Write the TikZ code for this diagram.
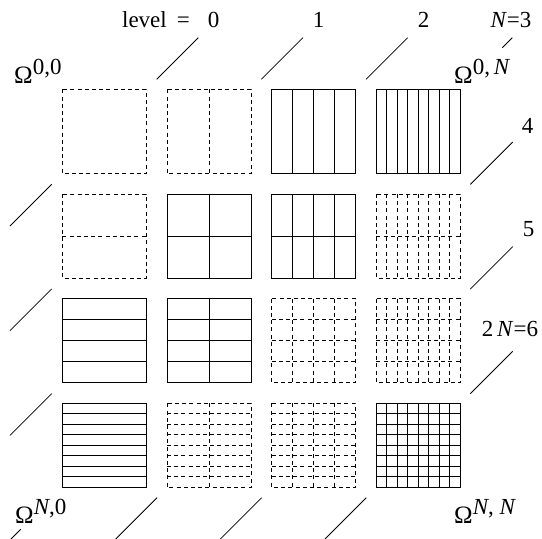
\documentclass[tikz,border=0pt]{standalone}
\usepackage{fontspec}
\setmainfont{Liberation Serif}
\newcommand{\bigOm}{{\fontsize{25}{27}\selectfont Ω}}
\begin{document}
\begin{tikzpicture}[x=1pt,y=-1pt,
  solidcell/.style={draw=black,line width=0.9pt},
  dashcell/.style={draw=black,line width=0.9pt,dash pattern=on 4pt off 3.2pt},
  levelline/.style={draw=black,line width=0.8pt},
  lbl/.style={inner sep=0pt,anchor=base,font=\fontsize{23}{27}\selectfont},
  omega/.style={inner sep=0pt,anchor=base west,font=\fontsize{23}{27}\selectfont}]
\useasboundingbox (0,0) rectangle (542,539);

% grid of squares
\foreach \i in {0,...,3}{
  \foreach \j in {0,...,3}{
    \pgfmathsetmacro\xl{62.3+104.67*\j}
    \pgfmathsetmacro\yt{89.3+104.67*\i}
    \pgfmathtruncatemacro\lev{\i+\j}
    \pgfmathtruncatemacro\nc{2^\j}
    \pgfmathtruncatemacro\nr{2^\i}
    \pgfmathtruncatemacro\issolid{(\lev==2)||(\lev==3)||(\lev==6)}
    \ifnum\issolid=1 \def\cs{solidcell}\else\def\cs{dashcell}\fi
    \draw[\cs] (\xl,\yt) rectangle ++(84,84);
    \ifnum\nc>1
      \pgfmathtruncatemacro\ncm{\nc-1}
      \foreach \c in {1,...,\ncm}{
        \draw[\cs] ({\xl+84*\c/\nc},\yt) -- ++(0,84);
      }
    \fi
    \ifnum\nr>1
      \pgfmathtruncatemacro\nrm{\nr-1}
      \foreach \r in {1,...,\nrm}{
        \draw[\cs] (\xl,{\yt+84*\r/\nr}) -- ++(84,0);
      }
    \fi
  }
}

% level lines (x+y = const)
\foreach \k in {0,1,2}{
  \pgfmathsetmacro\C{236+104.67*\k}
  \draw[levelline] ({\C-79.3},79.3) -- ({\C-37.7},37.7);
  \draw[levelline] (51.7,{\C-51.7}) -- (10,{\C-10});
}
\draw[levelline] (502.3,47.7) -- (512.3,37.7);
\draw[levelline] (20.7,529.3) -- (10,540);
\foreach \k in {4,5,6}{
  \pgfmathsetmacro\C{236+104.67*\k}
  \draw[levelline] (470.3,{\C-470.3}) -- (512.7,{\C-512.7});
  \draw[levelline] ({\C-497.7},497.7) -- ({\C-539},539);
}

% level labels
\node[lbl,anchor=base east] (lev0) at (219.5,27) {level\hspace{10pt}=\hspace{18pt}0};
\node[lbl] (lev1) at (318.5,27) {1};
\node[lbl] (lev2) at (423.5,27) {2};
\node[lbl] (lev3) at (511,27) {\textit{N}=3};
\node[lbl] (lev4) at (527.5,133.3) {4};
\node[lbl] (lev5) at (528.5,236.7) {5};
\node[lbl] (lev6) at (510,336.7) {2\,\textit{N}=6};

% corner labels
\node[omega] (o00) at (14,83.3) {\bigOm\raisebox{9pt}{0,0}};
\node[omega] (o0N) at (454,83.3) {\bigOm\raisebox{9pt}{0,\,\textit{N}}};
\node[omega] (oN0) at (15,523.3) {\bigOm\raisebox{9pt}{\textit{N},0}};
\node[omega] (oNN) at (454,523.3) {\bigOm\raisebox{9pt}{\textit{N}, \textit{N}}};
\end{tikzpicture}
\end{document}
